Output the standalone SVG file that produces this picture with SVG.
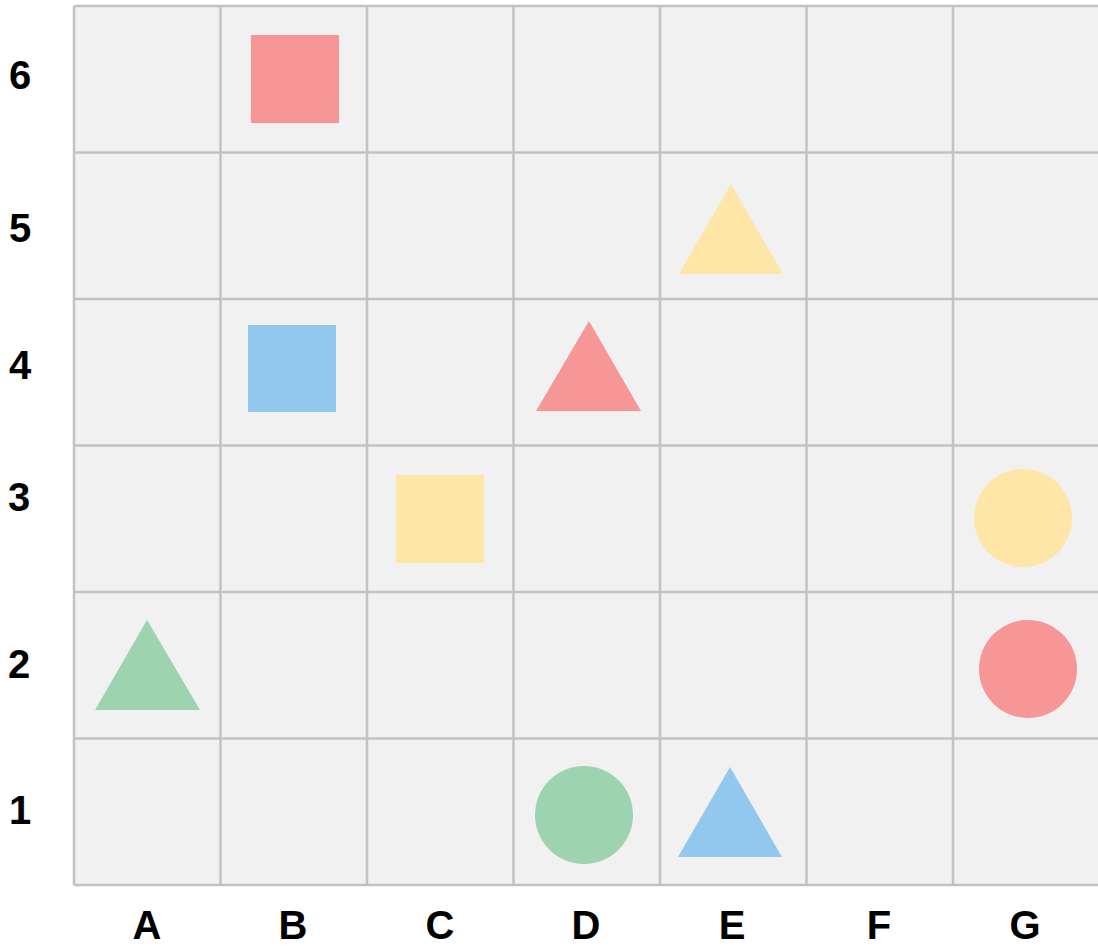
<svg xmlns="http://www.w3.org/2000/svg" width="1098" height="949" viewBox="0 0 1098 949">
<style>
.cell{fill:#f1f1f1}
.grid{stroke:#c2c2c2;stroke-width:2.5;fill:none}
.lbl{font-family:"Liberation Sans Narrow","Liberation Sans",Arial,sans-serif;font-size:40px;font-weight:bold;fill:#000;text-anchor:middle}
.red{fill:#f69697}
.yel{fill:#fee6a8}
.blu{fill:#93c8ee}
.grn{fill:#9dd3af}
</style>
<rect width="1098" height="949" fill="#ffffff"/>
<g id="grid">
<rect class="cell" x="74" y="6" width="1026" height="879"/>
<path class="grid" d="M74 6V885M220.5 6V885M367 6V885M513.5 6V885M660 6V885M806.5 6V885M953 6V885M1099.5 6V885M74 6H1100M74 152.5H1100M74 299H1100M74 445.5H1100M74 592H1100M74 738.5H1100M74 885H1100"/>
</g>
<g id="row-labels">
<text class="lbl" x="20" y="89">6</text>
<text class="lbl" x="20" y="242">5</text>
<text class="lbl" x="20" y="379">4</text>
<text class="lbl" x="19" y="511">3</text>
<text class="lbl" x="19" y="678">2</text>
<text class="lbl" x="20" y="824">1</text>
</g>
<g id="col-labels">
<text class="lbl" x="147" y="939">A</text>
<text class="lbl" x="293" y="939">B</text>
<text class="lbl" x="440" y="939">C</text>
<text class="lbl" x="586" y="939">D</text>
<text class="lbl" x="732" y="939">E</text>
<text class="lbl" x="879" y="939">F</text>
<text class="lbl" x="1025" y="939">G</text>
</g>
<g id="red-square-B6"><rect class="red" x="251" y="35" width="88" height="88"/></g>
<g id="yellow-triangle-E5"><polygon class="yel" points="731,184 783,274 679,274"/></g>
<g id="blue-square-B4"><rect class="blu" x="248" y="325" width="88" height="87"/></g>
<g id="red-triangle-D4"><polygon class="red" points="589,321 641,411 536,411"/></g>
<g id="yellow-square-C3"><rect class="yel" x="396" y="475" width="88" height="88"/></g>
<g id="yellow-circle-G3"><circle class="yel" cx="1023" cy="518" r="49"/></g>
<g id="red-circle-G2"><circle class="red" cx="1028" cy="669" r="49"/></g>
<g id="green-triangle-A2"><polygon class="grn" points="147,620 200,710 95,710"/></g>
<g id="green-circle-D1"><circle class="grn" cx="584" cy="815" r="49"/></g>
<g id="blue-triangle-E1"><polygon class="blu" points="730,767 782,857 678,857"/></g>
</svg>
